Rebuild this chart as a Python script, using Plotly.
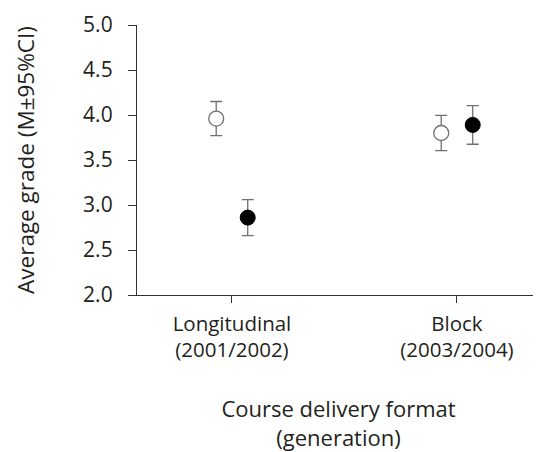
import plotly.graph_objects as go

categories = ["Longitudinal<br>(2001/2002)", "Block<br>(2003/2004)"]
cat_pos = [0, 1]
offset = 0.07
open_means = [3.96, 3.80]
open_ci = [0.19, 0.195]
filled_means = [2.86, 3.89]
filled_ci = [0.20, 0.215]
y_ticks = [2.0, 2.5, 3.0, 3.5, 4.0, 4.5, 5.0]

font = "Open Sans"
txt = "#231f20"
err_color = "#707070"

fig = go.Figure()
fig.add_trace(go.Scatter(
    x=[p - offset for p in cat_pos], y=open_means, mode="markers",
    marker=dict(symbol="circle", size=15, color="white",
                line=dict(color="#707070", width=1.3)),
    error_y=dict(type="data", array=open_ci, visible=True, color=err_color,
                 thickness=1.3, width=6),
    showlegend=False))
fig.add_trace(go.Scatter(
    x=[p + offset for p in cat_pos], y=filled_means, mode="markers",
    marker=dict(symbol="circle", size=15, color="black",
                line=dict(color="black", width=1)),
    error_y=dict(type="data", array=filled_ci, visible=True, color=err_color,
                 thickness=1.3, width=6),
    showlegend=False))

fig.update_layout(
    width=533, height=444,
    margin=dict(l=129, r=1, t=17, b=157),
    paper_bgcolor="white", plot_bgcolor="white",
    font=dict(family=font, size=21, color=txt),
    xaxis=dict(range=[-0.422, 1.369], tickvals=cat_pos, ticktext=categories,
               tickfont=dict(family=font, size=20.5, color=txt),
               ticklabelstandoff=3,
               showline=True, linecolor="#333", linewidth=1.3,
               ticks="outside", ticklen=7, tickcolor="#333",
               showgrid=False, zeroline=False,
               title=dict(text="Course delivery format<br>(generation)",
                          font=dict(family=font, size=22, color=txt),
                          standoff=45)),
    yaxis=dict(range=[2.0, 5.0], tickvals=y_ticks,
               ticktext=[f"{v:.1f}" for v in y_ticks],
               tickfont=dict(family=font, size=21, color=txt),
               ticklabelstandoff=11,
               showline=True, linecolor="#333", linewidth=1.3,
               ticks="outside", ticklen=8, tickcolor="#333",
               showgrid=False, zeroline=False,
               title=dict(text="Average grade (M±95%CI)",
                          font=dict(family=font, size=22.5, color=txt),
                          standoff=42)),
)
fig.write_html("out.html")
